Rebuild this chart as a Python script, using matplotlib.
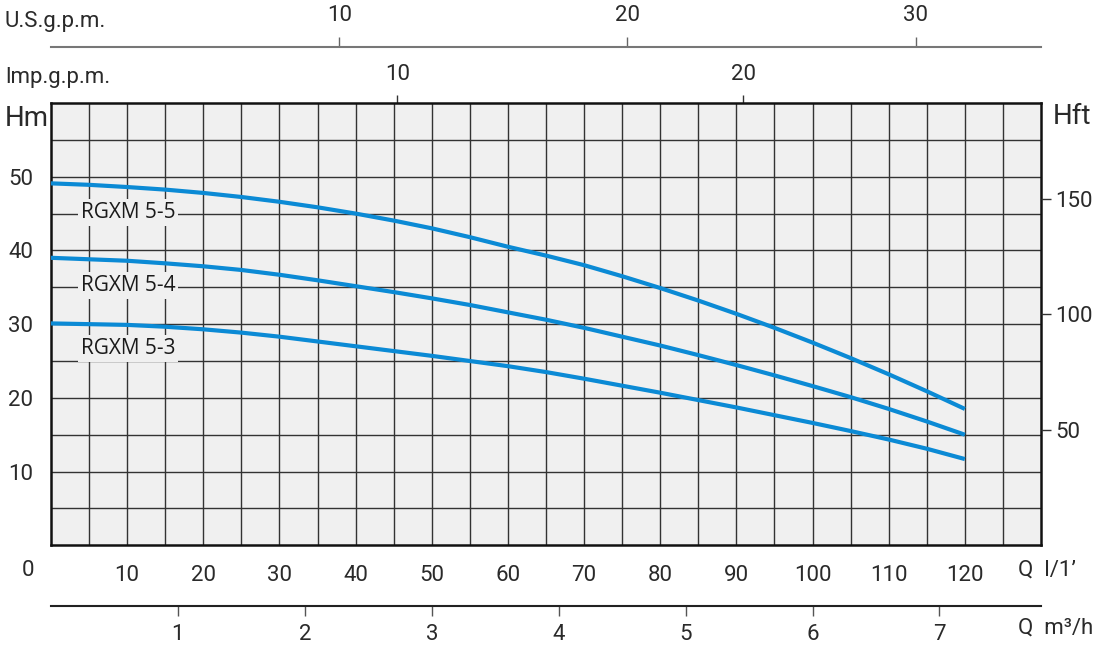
import matplotlib
matplotlib.use("Agg")
import matplotlib.pyplot as plt
import numpy as np

plt.rcParams['font.family'] = ['Roboto', 'DejaVu Sans']

# ---- data ----
q_lmin = [0, 5, 10, 15, 20, 25, 30, 35, 40, 45, 50, 55, 60, 65, 70, 75, 80, 85, 90, 95, 100, 105, 110, 115, 120]
h_55 = [49.1, 48.9, 48.6, 48.25, 47.8, 47.25, 46.6, 45.85, 45.0, 44.05, 43.0, 41.8, 40.5, 39.3, 38.0, 36.5, 34.9, 33.2, 31.4, 29.5, 27.5, 25.4, 23.2, 20.9, 18.5]
h_54 = [39.0, 38.8, 38.6, 38.25, 37.85, 37.35, 36.7, 35.95, 35.15, 34.35, 33.5, 32.6, 31.6, 30.6, 29.5, 28.3, 27.1, 25.8, 24.45, 23.05, 21.6, 20.1, 18.5, 16.8, 15.0]
h_53 = [30.1, 30.0, 29.9, 29.65, 29.3, 28.85, 28.3, 27.65, 27.0, 26.35, 25.7, 25.0, 24.3, 23.5, 22.6, 21.65, 20.7, 19.7, 18.7, 17.65, 16.6, 15.5, 14.35, 13.1, 11.7]
series_names = ["RGXM 5-5", "RGXM 5-4", "RGXM 5-3"]
label_pos = [(3.9, 45.1), (3.9, 35.2), (3.9, 26.7)]

x_ticks_lmin = [10, 20, 30, 40, 50, 60, 70, 80, 90, 100, 110, 120]
y_ticks_m = [10, 20, 30, 40, 50]
ft_ticks = [50, 100, 150]
usgpm_ticks = [10, 20, 30]
impgpm_ticks = [10, 20]
m3h_ticks = [1, 2, 3, 4, 5, 6, 7]

XMAX = 130.0
YMAX = 60.0
FT_PER_M = 3.19
L_PER_USGAL = 3.785
L_PER_IMPGAL = 4.546

W, H = 1109, 650
fig = plt.figure(figsize=(W / 100, H / 100), dpi=100)

def px(x0, y0, x1, y1):
    return [x0 / W, 1 - y1 / H, (x1 - x0) / W, (y1 - y0) / H]

txt = '#2a2a2a'
blue = '#0b8ad5'
gridc = '#333333'
FS = 16

ax = fig.add_axes(px(51, 103, 1041, 545.3))
ax.set_facecolor('#f0f0f0')
ax.set_xlim(0, XMAX)
ax.set_ylim(0, YMAX)
ax.set_xticks(x_ticks_lmin)
ax.set_xticks(np.arange(5, XMAX, 5), minor=True)
ax.set_yticks(y_ticks_m)
ax.set_yticks(np.arange(5, YMAX, 5), minor=True)
ax.grid(which='both', color=gridc, lw=1.0)
ax.set_axisbelow(True)
ax.tick_params(which='both', length=0, labelsize=FS, colors=txt, labelcolor=txt)
ax.tick_params(axis='x', pad=14)
ax.tick_params(axis='y', pad=13)
for s in ax.spines.values():
    s.set_linewidth(1.8)
    s.set_color('#111111')

for h, name, (lx, ly) in zip([h_55, h_54, h_53], series_names, label_pos):
    ax.plot(q_lmin, h, color=blue, lw=3.0, solid_capstyle='butt', zorder=3)
    ax.text(lx, ly, name, fontsize=15, family=['Open Sans', 'DejaVu Sans'], fontweight='normal',
            color='#1a1a1a', ha='left', va='center', zorder=2,
            bbox=dict(boxstyle='square,pad=0.15', fc='#f0f0f0', ec='none'))

# right axis in feet
axr = ax.twinx()
axr.set_ylim(0, YMAX * FT_PER_M)
axr.set_yticks(ft_ticks)
axr.tick_params(axis='y', direction='out', length=7, width=1.0, pad=3, labelsize=FS,
                colors='#333333', labelcolor=txt)
for s in axr.spines.values():
    s.set_visible(False)

# Imp g.p.m. on top spine
imp = ax.secondary_xaxis('top', functions=(lambda q: q / L_PER_IMPGAL, lambda g: g * L_PER_IMPGAL))
imp.set_xticks(impgpm_ticks)
imp.tick_params(direction='out', length=6, width=1.0, pad=7, labelsize=FS, colors='#333333', labelcolor=txt)
imp.spines['top'].set_visible(False)

# US g.p.m. axis line
axu = fig.add_axes(px(51, 47, 1041, 47))
axu.set_xlim(0, XMAX / L_PER_USGAL)
axu.set_xticks(usgpm_ticks)
axu.set_yticks([])
axu.xaxis.set_ticks_position('top')
axu.xaxis.set_label_position('top')
axu.tick_params(axis='x', direction='out', length=7, width=1.0, pad=8, labelsize=FS, colors='#666666', labelcolor=txt)
for k, s in axu.spines.items():
    s.set_visible(k == 'top')
axu.spines['top'].set_color('#777777')
axu.spines['top'].set_linewidth(1.5)
axu.patch.set_visible(False)

# m3/h axis line
axm = fig.add_axes(px(51, 605.7, 1041, 605.7))
axm.set_xlim(0, XMAX * 60 / 1000)
axm.set_xticks(m3h_ticks)
axm.set_yticks([])
axm.tick_params(axis='x', direction='out', length=7, width=1.0, pad=6, labelsize=FS, colors='#555555', labelcolor=txt)
for k, s in axm.spines.items():
    s.set_visible(k == 'bottom')
axm.spines['bottom'].set_color('#222222')
axm.spines['bottom'].set_linewidth(1.5)
axm.patch.set_visible(False)

# texts
fig.text(5 / W, 1 - 22 / H, "U.S.g.p.m.", fontsize=FS, color=txt, ha='left', va='center')
fig.text(5 / W, 1 - 77 / H, "lmp.g.p.m.", fontsize=FS, color=txt, ha='left', va='center')
fig.text(5 / W, 1 - 118 / H, "Hm", fontsize=20, color=txt, ha='left', va='center')
fig.text(1053 / W, 1 - 117 / H, "Hft", fontsize=20, color=txt, ha='left', va='center')
fig.text(28 / W, 1 - 570 / H, "0", fontsize=FS, color=txt, ha='center', va='center')
fig.text(1018 / W, 1 - 570 / H, "Q  l/1’", fontsize=FS, color=txt, ha='left', va='center')
fig.text(1018 / W, 1 - 628 / H, "Q  m³/h", fontsize=FS, color=txt, ha='left', va='center')

fig.savefig("out.png", dpi=100, facecolor='white')
